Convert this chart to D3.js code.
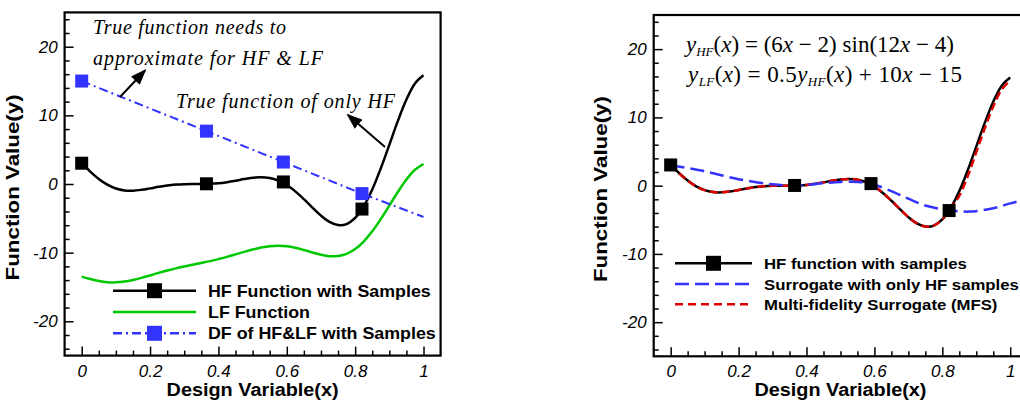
<!DOCTYPE html>
<html>
<head>
<meta charset="utf-8">
<script src="https://cdn.jsdelivr.net/npm/d3@7/dist/d3.min.js"></script>
<style>
  html, body { margin: 0; padding: 0; background: #fff; overflow: hidden; }
  svg { display: block; }
</style>
</head>
<body>
<svg id="chart" width="1020" height="400"></svg>
<script>
// ---------------- DATA ----------------
const xGrid = [0,0.025,0.05,0.075,0.1,0.125,0.15,0.175,0.2,0.225,0.25,0.275,0.3,0.325,0.35,0.375,0.4,0.425,0.45,0.475,0.5,0.525,0.55,0.575,0.6,0.625,0.65,0.675,0.7,0.725,0.75,0.775,0.8,0.825,0.85,0.875,0.9,0.925,0.95,0.975,1];
const hfValues = [3.03,1.81,0.74,-0.10,-0.66,-0.94,-0.98,-0.85,-0.64,-0.41,-0.21,-0.08,-0.02,0.00,0.00,0.03,0.11,0.27,0.48,0.72,0.91,0.99,0.87,0.50,-0.15,-1.07,-2.21,-3.44,-4.61,-5.52,-5.99,-5.85,-4.95,-3.25,-0.80,2.27,5.71,9.19,12.30,14.65,15.83];
const lfValues = [-13.49,-13.84,-14.13,-14.30,-14.33,-14.22,-13.99,-13.68,-13.32,-12.95,-12.61,-12.29,-12.01,-11.75,-11.50,-11.24,-10.94,-10.62,-10.26,-9.89,-9.55,-9.26,-9.06,-9.00,-9.08,-9.29,-9.61,-9.97,-10.30,-10.51,-10.50,-10.17,-9.48,-8.38,-6.90,-5.11,-3.14,-1.16,0.65,2.07,2.92];
const mfsValues = [3.03,1.81,0.74,-0.10,-0.66,-0.94,-0.98,-0.85,-0.64,-0.41,-0.21,-0.08,-0.02,0.00,0.00,0.03,0.11,0.27,0.48,0.72,0.91,0.99,0.87,0.50,-0.15,-1.07,-2.21,-3.44,-4.61,-5.52,-5.99,-5.85,-4.95,-3.25,-1.50,1.40,4.90,8.40,11.60,14.10,15.40];

const sampleX = [0, 0.365, 0.59, 0.82];
const hfSampleY = [3.03, 0.03, 0.3, -3.65];
const dfX = [0, 0.365, 0.59, 0.82, 1];
const dfY = [15, 7.7, 3.2, -1.4, -4.8];

const surrogateX = [0, 0.1, 0.2, 0.3, 0.365, 0.45, 0.5, 0.55, 0.59, 0.65, 0.7, 0.75, 0.82, 0.88, 0.95, 1.0, 1.05];
const surrogateY = [3.0, 2.1, 0.95, 0.2, 0.0, 0.35, 0.55, 0.55, 0.3, -0.8, -1.9, -2.9, -3.6, -3.8, -3.3, -2.6, -2.0];

const xTickValues = [0, 0.2, 0.4, 0.6, 0.8, 1];
const xTickLabels = ["0", "0.2", "0.4", "0.6", "0.8", "1"];
const yTickValues = [-20, -10, 0, 10, 20];
const yTickLabels = ["-20", "-10", "0", "10", "20"];

const leftLegend = ["HF Function with Samples", "LF Function", "DF of HF&LF with Samples"];
const rightLegend = ["HF function with samples", "Surrogate with only HF samples", "Multi-fidelity Surrogate (MFS)"];

const xTitle = "Design Variable(x)";
const yTitle = "Function Value(y)";

// ---------------- STYLE ----------------
const BLUE = "#3333ff", GREEN = "#00c800", RED = "#dd0000", BLACK = "#000";
const SANS = "'Liberation Sans', Arial, sans-serif";
const SERIF = "'Liberation Serif', 'Times New Roman', serif";

const svg = d3.select("#chart");

const defs = svg.append("defs");
defs.append("marker").attr("id", "arrowhead")
  .attr("markerUnits", "userSpaceOnUse")
  .attr("viewBox", "0 0 16 12").attr("markerWidth", 16).attr("markerHeight", 12)
  .attr("refX", 14).attr("refY", 6).attr("orient", "auto")
  .append("path").attr("d", "M0,0 L16,6 L0,12 Z").attr("fill", BLACK);

function makePanel(id, xr, yr) {
  const x = d3.scaleLinear().domain([-0.05, 1.05]).range(xr);
  const y = d3.scaleLinear().domain([-25, 25]).range(yr);
  const g = svg.append("g").attr("id", id);
  defs.append("clipPath").attr("id", id + "-clip")
    .append("rect").attr("x", xr[0]).attr("y", yr[1]).attr("width", xr[1] - xr[0]).attr("height", yr[0] - yr[1]);

  // minor ticks
  const minorY = y.ticks(25).filter(v => yTickValues.indexOf(v) < 0 && v > -25 && v < 25);
  const minorX = x.ticks(22).filter(v => v > 0.001 && v < 1.0 && Math.abs(v * 5 - Math.round(v * 5)) > 1e-6);
  g.append("g").attr("transform", `translate(${xr[0]},0)`)
    .call(d3.axisLeft(y).tickValues(minorY).tickSize(-5).tickFormat(""))
    .call(s => s.select(".domain").remove())
    .call(s => s.selectAll("line").attr("stroke-width", 1.5));
  g.append("g").attr("transform", `translate(0,${yr[0]})`)
    .call(d3.axisBottom(x).tickValues(minorX).tickSize(-5).tickFormat(""))
    .call(s => s.select(".domain").remove())
    .call(s => s.selectAll("line").attr("stroke-width", 1.5));
  // major ticks
  g.append("g").attr("transform", `translate(${xr[0]},0)`)
    .call(d3.axisLeft(y).tickValues(yTickValues).tickSize(-9).tickPadding(7)
      .tickFormat((d, i) => yTickLabels[i]))
    .call(s => s.select(".domain").remove())
    .call(s => s.selectAll("line").attr("stroke-width", 1.5))
    .call(s => s.selectAll("text").attr("font-family", SANS).attr("font-style", "italic")
      .attr("font-size", 17).attr("fill", BLACK));
  g.append("g").attr("transform", `translate(0,${yr[0]})`)
    .call(d3.axisBottom(x).tickValues(xTickValues).tickSize(-9).tickPadding(9)
      .tickFormat((d, i) => xTickLabels[i]))
    .call(s => s.select(".domain").remove())
    .call(s => s.selectAll("line").attr("stroke-width", 1.5))
    .call(s => s.selectAll("text").attr("font-family", SANS).attr("font-style", "italic")
      .attr("font-size", 17).attr("fill", BLACK));

  // frame
  g.append("rect").attr("x", xr[0]).attr("y", yr[1])
    .attr("width", xr[1] - xr[0]).attr("height", yr[0] - yr[1])
    .attr("fill", "none").attr("stroke", BLACK).attr("stroke-width", 2.2);

  const plot = g.append("g").attr("clip-path", `url(#${id}-clip)`);
  return { x, y, g, plot };
}

function curve(p, xs, ys, color, width, dash, curveType) {
  const line = d3.line().x(d => p.x(d[0])).y(d => p.y(d[1])).curve(curveType || d3.curveCatmullRom.alpha(0.5));
  p.plot.append("path").datum(xs.map((v, i) => [v, ys[i]]))
    .attr("d", line).attr("fill", "none").attr("stroke", color)
    .attr("stroke-width", width).attr("stroke-dasharray", dash || null)
    .attr("stroke-linejoin", "round");
}

function squares(p, xs, ys, color, size) {
  p.g.selectAll(null).data(xs.map((v, i) => [v, ys[i]])).enter().append("rect")
    .attr("x", d => p.x(d[0]) - size / 2).attr("y", d => p.y(d[1]) - size / 2)
    .attr("width", size).attr("height", size).attr("fill", color);
}

function axisTitles(p, yCenterX) {
  p.g.append("text").attr("x", p.x(0.5)).attr("y", 396)
    .attr("text-anchor", "middle").attr("font-family", SANS).attr("font-weight", "bold")
    .attr("font-size", 18).attr("textLength", 172).attr("lengthAdjust", "spacingAndGlyphs")
    .text(xTitle);
  p.g.append("text").attr("transform", `translate(${yCenterX},${p.y(-0.5)}) rotate(-90)`)
    .attr("text-anchor", "middle").attr("font-family", SANS).attr("font-weight", "bold")
    .attr("font-size", 18).attr("textLength", 186).attr("lengthAdjust", "spacingAndGlyphs")
    .text(yTitle);
}

function legend(p, items, x1, x2, tx, rows, fontSize, stretch) {
  items.forEach((it, i) => {
    const yy = rows[i];
    p.g.append("line").attr("x1", x1).attr("x2", x2).attr("y1", yy).attr("y2", yy)
      .attr("stroke", it.color).attr("stroke-width", it.width).attr("stroke-dasharray", it.dash || null);
    if (it.marker) {
      const mx = (x1 + x2) / 2;
      p.g.append("rect").attr("x", mx - 7.5).attr("y", yy - 7.5).attr("width", 15).attr("height", 15).attr("fill", it.color);
    }
    const t = p.g.append("text").attr("x", tx).attr("y", yy).attr("dy", "0.36em")
      .attr("font-family", SANS).attr("font-weight", "bold").attr("font-size", fontSize)
      .text(it.label);
    const w = t.node().getComputedTextLength();
    t.attr("textLength", w * stretch).attr("lengthAdjust", "spacingAndGlyphs");
  });
}

// ---------------- LEFT PANEL ----------------
const L = makePanel("left", [64.6, 440.6], [355.6, 12.4]);
curve(L, xGrid, lfValues, GREEN, 2.5);
curve(L, xGrid, hfValues, BLACK, 2.5);
curve(L, dfX, dfY, BLUE, 2, "9,4,2,4", d3.curveLinear);
squares(L, sampleX, hfSampleY, BLACK, 13);
squares(L, sampleX, dfY.slice(0, 4), BLUE, 13);
axisTitles(L, 19);
legend(L, [
  { label: leftLegend[0], color: BLACK, width: 2.5, marker: true },
  { label: leftLegend[1], color: GREEN, width: 2.5 },
  { label: leftLegend[2], color: BLUE, width: 2.5, dash: "9,4,2,4", marker: true }
], 113, 196, 208, [290.7, 312, 333.3], 16.5, 1.08);

// annotations
const ann = L.g.append("g").attr("font-family", SERIF).attr("font-style", "italic").attr("font-size", 20).attr("fill", BLACK);
ann.append("text").attr("x", 93).attr("y", 34).attr("textLength", 193).attr("lengthAdjust", "spacing").text("True function needs to");
ann.append("text").attr("x", 93).attr("y", 65).attr("textLength", 230).attr("lengthAdjust", "spacing").text("approximate for HF & LF");
ann.append("text").attr("x", 176).attr("y", 108).attr("textLength", 219).attr("lengthAdjust", "spacing").text("True function of only HF");
L.g.append("line").attr("x1", 120).attr("y1", 97).attr("x2", 145).attr("y2", 70.5)
  .attr("stroke", BLACK).attr("stroke-width", 2).attr("marker-end", "url(#arrowhead)");
L.g.append("line").attr("x1", 385).attr("y1", 147).attr("x2", 348).attr("y2", 115)
  .attr("stroke", BLACK).attr("stroke-width", 2).attr("marker-end", "url(#arrowhead)");

// ---------------- RIGHT PANEL ----------------
const R = makePanel("right", [653.7, 1027.2], [356.3, 15]);
curve(R, xGrid, hfValues, BLACK, 2.5);
curve(R, xGrid, mfsValues, RED, 2.5, "8,4");
curve(R, surrogateX, surrogateY, BLUE, 2.5, "14,6");
squares(R, sampleX, hfSampleY, BLACK, 13);
axisTitles(R, 607);
legend(R, [
  { label: rightLegend[0], color: BLACK, width: 2.5, marker: true },
  { label: rightLegend[1], color: BLUE, width: 2.5, dash: "14,6" },
  { label: rightLegend[2], color: RED, width: 2.5, dash: "8,5" }
], 675, 752, 764, [263.3, 284, 304.3], 15.5, 1.08);

// formulas
const f = R.g.append("g").attr("font-family", SERIF).attr("font-size", 23).attr("fill", BLACK);
const f1 = f.append("text").attr("x", 686).attr("y", 52).attr("textLength", 268).attr("lengthAdjust", "spacing");
f1.append("tspan").attr("font-style", "italic").text("y");
f1.append("tspan").attr("font-style", "italic").attr("font-size", 13).attr("dy", 4).text("HF");
f1.append("tspan").attr("dy", -4).text("(");
f1.append("tspan").attr("font-style", "italic").text("x");
f1.append("tspan").text(") = (6");
f1.append("tspan").attr("font-style", "italic").text("x");
f1.append("tspan").text(" − 2) sin(12");
f1.append("tspan").attr("font-style", "italic").text("x");
f1.append("tspan").text(" − 4)");

const f2 = f.append("text").attr("x", 688).attr("y", 82).attr("textLength", 274).attr("lengthAdjust", "spacing");
f2.append("tspan").attr("font-style", "italic").text("y");
f2.append("tspan").attr("font-style", "italic").attr("font-size", 13).attr("dy", 4).text("LF");
f2.append("tspan").attr("dy", -4).text("(");
f2.append("tspan").attr("font-style", "italic").text("x");
f2.append("tspan").text(") = 0.5");
f2.append("tspan").attr("font-style", "italic").text("y");
f2.append("tspan").attr("font-style", "italic").attr("font-size", 13).attr("dy", 4).text("HF");
f2.append("tspan").attr("dy", -4).text("(");
f2.append("tspan").attr("font-style", "italic").text("x");
f2.append("tspan").text(") + 10");
f2.append("tspan").attr("font-style", "italic").text("x");
f2.append("tspan").text(" − 15");
</script>
</body>
</html>
